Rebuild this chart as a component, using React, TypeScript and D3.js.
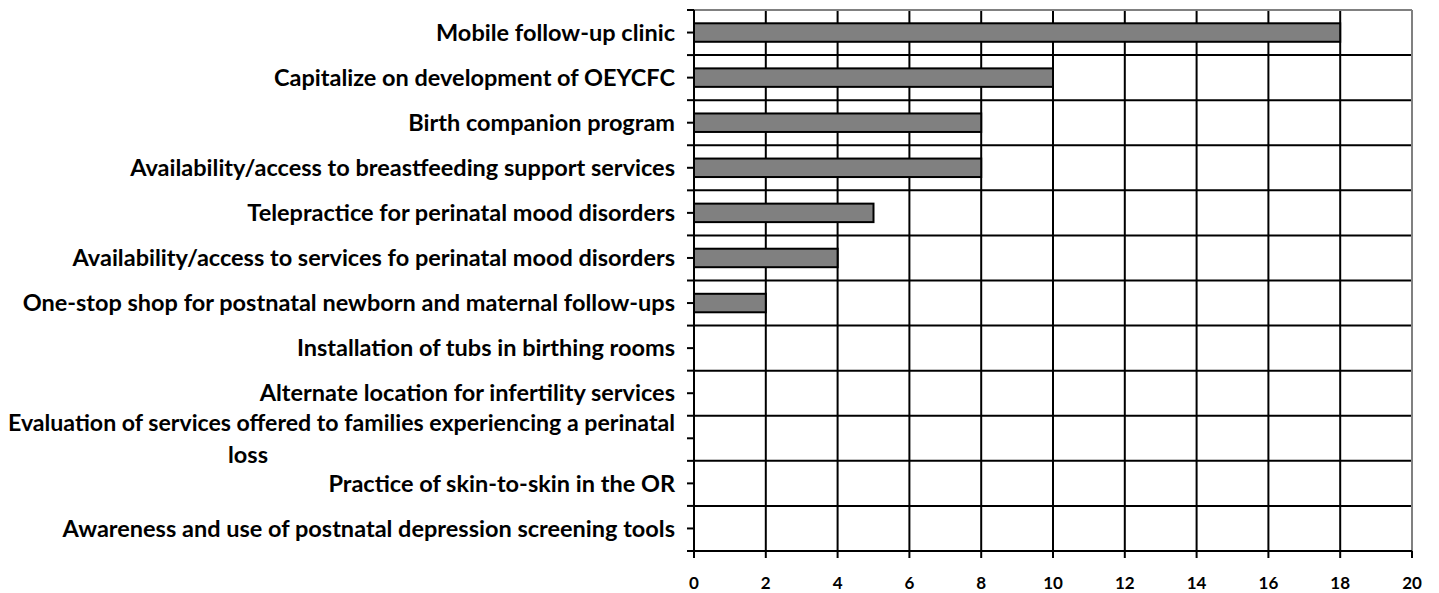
import React from 'react';
import * as d3 from 'd3';

const categories = [
  'Mobile follow-up clinic',
  'Capitalize on development of OEYCFC',
  'Birth companion program',
  'Availability/access to breastfeeding support services',
  'Telepractice for perinatal mood disorders',
  'Availability/access to services fo perinatal mood disorders',
  'One-stop shop for postnatal newborn and maternal follow-ups',
  'Installation of tubs in birthing rooms',
  'Alternate location for infertility services',
  'Evaluation of services offered to families experiencing a perinatal|loss',
  'Practice of skin-to-skin in the OR',
  'Awareness and use of postnatal depression screening tools',
];
const values = [18, 10, 8, 8, 5, 4, 2, 0, 0, 0, 0, 0];
const xTicks = [0, 2, 4, 6, 8, 10, 12, 14, 16, 18, 20];

const W = 1439;
const H = 593;
const margin = { top: 10, right: 27, bottom: 42, left: 694 };
const FONT = 'Lato, "Open Sans", sans-serif';
const LABEL_SIZE = 23.5;

export default function App() {
  const x = d3.scaleLinear().domain([0, 20]).range([margin.left, W - margin.right]);
  const y = d3
    .scaleBand<number>()
    .domain(d3.range(categories.length))
    .range([margin.top, H - margin.bottom])
    .paddingInner(0.59)
    .paddingOuter(0.295);
  // band boundaries (full step, no padding)
  const step = (H - margin.bottom - margin.top) / categories.length;
  const boundaries = d3.range(categories.length + 1).map((i) => margin.top + i * step);
  const centers = d3.range(categories.length).map((i) => margin.top + (i + 0.5) * step);
  const x0 = x(0);
  const x1 = x(20);
  const yBottom = H - margin.bottom;
  const labelRight = x0 - 19;
  const labelLeft = 8; // wrapped label fills the whole margin

  return (
    <svg width={W} height={H} style={{ position: 'absolute', left: 0, top: 0, background: '#fff' }}>
      {/* vertical gridlines */}
      {xTicks.slice(1, -1).map((t) => (
        <line key={'v' + t} x1={x(t)} x2={x(t)} y1={margin.top} y2={yBottom} stroke="#000" strokeWidth={2} />
      ))}
      {/* horizontal gridlines */}
      {boundaries.slice(1, -1).map((b, i) => (
        <line key={'h' + i} x1={x0} x2={x1} y1={b} y2={b} stroke="#000" strokeWidth={2} />
      ))}
      {/* plot border top/right */}
      <line x1={x0} x2={x1} y1={margin.top} y2={margin.top} stroke="#808080" strokeWidth={2} />
      <line x1={x1} x2={x1} y1={margin.top} y2={yBottom} stroke="#808080" strokeWidth={2} />
      {/* bars */}
      {values.map((v, i) =>
        v > 0 ? (
          <rect
            key={'b' + i}
            x={x0}
            y={y(i)}
            width={x(v) - x0}
            height={y.bandwidth()}
            fill="#808080"
            stroke="#000"
            strokeWidth={2}
          />
        ) : null
      )}
      {/* y axis */}
      <line x1={x0} x2={x0} y1={margin.top} y2={yBottom} stroke="#000" strokeWidth={2} />
      {boundaries.map((b, i) => (
        <line key={'tb' + i} x1={x0 - 7} x2={x0} y1={b} y2={b} stroke="#000" strokeWidth={2} />
      ))}
      {centers.map((c, i) => (
        <line key={'tc' + i} x1={x0 - 7} x2={x0} y1={c} y2={c} stroke="#000" strokeWidth={2} />
      ))}
      {/* x axis */}
      <line x1={x0} x2={x1} y1={yBottom} y2={yBottom} stroke="#000" strokeWidth={2} />
      {xTicks.map((t) => (
        <g key={'x' + t}>
          <line x1={x(t)} x2={x(t)} y1={yBottom} y2={yBottom + 7} stroke="#000" strokeWidth={2} />
          <text
            x={x(t)}
            y={yBottom + 38}
            textAnchor="middle"
            fontFamily={FONT}
            fontWeight="bold"
            fontSize={17}
            fill="#000"
          >
            {t}
          </text>
        </g>
      ))}
      {/* category labels */}
      {categories.map((c, i) => {
        const parts = c.split('|');
        if (parts.length === 1) {
          return (
            <text
              key={'c' + i}
              x={labelRight}
              y={centers[i]}
              dy="0.35em"
              textAnchor="end"
              fontFamily={FONT}
              fontWeight="bold"
              fontSize={LABEL_SIZE}
              fill="#000"
            >
              {c}
            </text>
          );
        }
        return (
          <g key={'c' + i} fontFamily={FONT} fontWeight="bold" fontSize={LABEL_SIZE} fill="#000">
            <text
              x={labelLeft}
              y={centers[i] - 16}
              dy="0.35em"
              textLength={labelRight - labelLeft}
              lengthAdjust="spacingAndGlyphs"
            >
              {parts[0]}
            </text>
            <text x={x0 - 446} y={centers[i] + 16} dy="0.35em" textAnchor="middle">
              {parts[1]}
            </text>
          </g>
        );
      })}
    </svg>
  );
}
